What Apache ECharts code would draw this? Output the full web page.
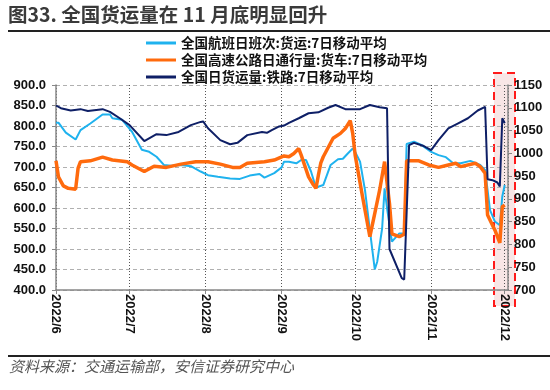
<!DOCTYPE html>
<html>
<head>
<meta charset="utf-8">
<script src="https://cdn.jsdelivr.net/npm/echarts@6/dist/echarts.min.js"></script>
<style>
  html, body { margin: 0; padding: 0; background: #fff; }
  #chart { width: 550px; height: 390px; }
</style>
</head>
<body>
<div id="chart"></div>
<script>
// 全国航班日班次:货运 (left axis)
const flightData = [
  ['2022-06-01', 808], ['2022-06-02', 808], ['2022-06-05', 784], ['2022-06-09', 767],
  ['2022-06-11', 790], ['2022-06-15', 806], ['2022-06-20', 828], ['2022-06-23', 828],
  ['2022-06-24', 819], ['2022-06-28', 815], ['2022-07-02', 786], ['2022-07-06', 742],
  ['2022-07-09', 737], ['2022-07-12', 725], ['2022-07-15', 705], ['2022-07-18', 703],
  ['2022-07-22', 705], ['2022-07-26', 702], ['2022-07-30', 689], ['2022-08-02', 680],
  ['2022-08-06', 676], ['2022-08-11', 672], ['2022-08-15', 671], ['2022-08-19', 679],
  ['2022-08-23', 683], ['2022-08-25', 674], ['2022-08-29', 685], ['2022-09-01', 699],
  ['2022-09-02', 713], ['2022-09-04', 713], ['2022-09-07', 709], ['2022-09-09', 717],
  ['2022-09-11', 717], ['2022-09-13', 689], ['2022-09-15', 650], ['2022-09-18', 656],
  ['2022-09-21', 705], ['2022-09-24', 719], ['2022-09-26', 720], ['2022-09-28', 733],
  ['2022-09-30', 745], ['2022-10-01', 737], ['2022-10-03', 713], ['2022-10-05', 644],
  ['2022-10-07', 546], ['2022-10-09', 450], ['2022-10-10', 469], ['2022-10-12', 550],
  ['2022-10-13', 648], ['2022-10-14', 600], ['2022-10-16', 518], ['2022-10-19', 538],
  ['2022-10-21', 538], ['2022-10-22', 756], ['2022-10-25', 762], ['2022-10-28', 754],
  ['2022-11-01', 737], ['2022-11-04', 729], ['2022-11-07', 724], ['2022-11-10', 709],
  ['2022-11-13', 709], ['2022-11-17', 715], ['2022-11-21', 705], ['2022-11-23', 693],
  ['2022-11-25', 595], ['2022-11-27', 567], ['2022-11-29', 558], ['2022-11-30', 628],
  ['2022-12-01', 656]
];

// 全国高速公路日通行量:货车 (left axis)
const truckData = [
  ['2022-06-01', 715], ['2022-06-02', 676], ['2022-06-04', 654], ['2022-06-06', 648],
  ['2022-06-09', 646], ['2022-06-10', 697], ['2022-06-11', 713], ['2022-06-15', 715],
  ['2022-06-20', 724], ['2022-06-24', 717], ['2022-06-30', 713], ['2022-07-02', 705],
  ['2022-07-07', 689], ['2022-07-11', 702], ['2022-07-16', 699], ['2022-07-22', 707],
  ['2022-07-28', 713], ['2022-08-02', 713], ['2022-08-07', 707], ['2022-08-12', 699],
  ['2022-08-15', 699], ['2022-08-18', 709], ['2022-08-25', 713], ['2022-08-29', 717],
  ['2022-09-02', 727], ['2022-09-04', 725], ['2022-09-06', 733], ['2022-09-08', 745],
  ['2022-09-09', 729], ['2022-09-12', 676], ['2022-09-14', 656], ['2022-09-15', 648],
  ['2022-09-16', 680], ['2022-09-17', 710], ['2022-09-18', 725], ['2022-09-22', 770],
  ['2022-09-25', 782], ['2022-09-27', 794], ['2022-09-29', 813], ['2022-09-30', 782],
  ['2022-10-01', 729], ['2022-10-04', 628], ['2022-10-07', 530], ['2022-10-09', 587],
  ['2022-10-11', 644], ['2022-10-13', 713], ['2022-10-15', 611], ['2022-10-16', 537],
  ['2022-10-19', 530], ['2022-10-21', 536], ['2022-10-22', 715], ['2022-10-27', 715],
  ['2022-10-31', 705], ['2022-11-04', 699], ['2022-11-08', 705], ['2022-11-11', 709],
  ['2022-11-13', 701], ['2022-11-19', 709], ['2022-11-21', 701], ['2022-11-23', 685],
  ['2022-11-24', 583], ['2022-11-27', 546], ['2022-11-29', 515], ['2022-11-30', 603],
  ['2022-12-01', 607]
];

// 全国日货运量:铁路 (right axis)
const railData = [
  ['2022-06-01', 1105], ['2022-06-03', 1099], ['2022-06-07', 1094], ['2022-06-11', 1097],
  ['2022-06-14', 1093], ['2022-06-20', 1097], ['2022-06-23', 1091], ['2022-06-27', 1077],
  ['2022-07-01', 1062], ['2022-07-07', 1027], ['2022-07-12', 1042], ['2022-07-16', 1040],
  ['2022-07-21', 1047], ['2022-07-26', 1062], ['2022-07-30', 1069], ['2022-07-31', 1070],
  ['2022-08-02', 1055], ['2022-08-07', 1029], ['2022-08-11', 1020], ['2022-08-14', 1023],
  ['2022-08-18', 1040], ['2022-08-24', 1047], ['2022-08-26', 1045], ['2022-08-28', 1051],
  ['2022-08-31', 1059], ['2022-09-02', 1061], ['2022-09-04', 1067], ['2022-09-08', 1077],
  ['2022-09-12', 1088], ['2022-09-16', 1090], ['2022-09-20', 1100], ['2022-09-23', 1106],
  ['2022-09-27', 1097], ['2022-10-03', 1097], ['2022-10-07', 1106], ['2022-10-11', 1101],
  ['2022-10-14', 1099], ['2022-10-15', 790], ['2022-10-20', 726], ['2022-10-21', 723],
  ['2022-10-23', 1018], ['2022-10-25', 1023], ['2022-10-29', 1016], ['2022-11-01', 1007],
  ['2022-11-04', 1029], ['2022-11-08', 1055], ['2022-11-12', 1066], ['2022-11-16', 1077],
  ['2022-11-20', 1094], ['2022-11-23', 1102], ['2022-11-24', 943], ['2022-11-26', 941],
  ['2022-11-28', 936], ['2022-11-29', 927], ['2022-11-30', 1077], ['2022-12-01', 1066]
];

const seriesNames = [
  '全国航班日班次:货运:7日移动平均',
  '全国高速公路日通行量:货车:7日移动平均',
  '全国日货运量:铁路:7日移动平均'
];
const seriesColors = ['#1fb2ee', '#ff6a0d', '#0e1f66'];

const titleText = '图33. 全国货运量在 11 月底明显回升';
const sourceText = '资料来源：交通运输部，安信证券研究中心';

const DAY = 86400000;
const chart = echarts.init(document.getElementById('chart'), null, { renderer: 'canvas' });

const axisFont = { fontFamily: 'Liberation Sans, Arial, sans-serif', fontWeight: 'bold', fontSize: 13, color: '#111' };

const option = {
  animation: false,
  textStyle: { fontFamily: '"Noto Sans CJK SC", sans-serif' },
  graphic: [
    { type: 'text', left: 8, top: 5, style: { text: titleText, fontSize: 19.5, fontWeight: 'bold', fill: '#3a3a3a', fontFamily: '"Noto Sans CJK SC", sans-serif' } },
    { type: 'rect', shape: { x: 8, y: 30, width: 542, height: 2 }, style: { fill: '#222' } },
    { type: 'rect', shape: { x: 8, y: 355, width: 542, height: 2 }, style: { fill: '#222' } },
    { type: 'text', left: 9, top: 359, style: { text: sourceText, fontSize: 15, fontStyle: 'italic', fill: '#555', fontFamily: '"Noto Sans CJK SC", serif' } },
    { type: 'rect', z: -1, shape: { x: 494, y: 73, width: 21, height: 233 }, style: { fill: 'rgba(240,200,200,0.45)', stroke: '#ff1a1a', lineWidth: 2, lineDash: [8, 5] } }
  ],
  legend: {
    orient: 'vertical',
    left: 141,
    top: 30,
    itemGap: 1,
    itemWidth: 30,
    itemHeight: 3,
    icon: 'rect',
    data: seriesNames,
    textStyle: { fontSize: 13.5, fontWeight: 'bold', color: '#111', lineHeight: 16, fontFamily: '"Noto Sans CJK SC", sans-serif' }
  },
  grid: { left: 56, right: 42, top: 85, bottom: 100, containLabel: false },
  xAxis: {
    type: 'time',
    min: +new Date(2022, 5, 1),
    max: +new Date(2022, 11, 2, 8),
    minInterval: 28 * DAY,
    maxInterval: 31 * DAY,
    splitNumber: 6,
    axisLine: { lineStyle: { color: '#888', width: 1.5 } },
    axisTick: { show: true, length: 4, lineStyle: { color: '#888' } },
    splitLine: { show: true, lineStyle: { color: '#555', type: [1, 2], width: 1 } },
    axisLabel: {
      ...axisFont,
      rotate: -90,
      margin: 4,
      showMinLabel: true,
      showMaxLabel: false,
      hideOverlap: false,
      formatter: '{yyyy}/{M}'
    }
  },
  yAxis: [
    {
      type: 'value',
      min: 400,
      max: 900,
      interval: 50,
      axisLine: { show: true, lineStyle: { color: '#888', width: 1.5 } },
      axisTick: { show: true, length: 4, inside: false, lineStyle: { color: '#888' } },
      splitLine: { show: true, lineStyle: { color: '#b0b0b0', type: [4, 3], width: 1 } },
      axisLabel: { ...axisFont, margin: 10, formatter: (v) => v.toFixed(1) }
    },
    {
      type: 'value',
      min: 700,
      max: 1150,
      interval: 50,
      position: 'right',
      axisLine: { show: true, lineStyle: { color: '#888', width: 1.5 } },
      axisTick: { show: true, length: 4, lineStyle: { color: '#888' } },
      splitLine: { show: false },
      axisLabel: { ...axisFont, margin: 6, formatter: (v) => String(v) }
    }
  ],
  series: [
    { name: seriesNames[0], type: 'line', yAxisIndex: 0, data: flightData, symbol: 'none', color: seriesColors[0], lineStyle: { width: 2 } },
    { name: seriesNames[1], type: 'line', yAxisIndex: 0, data: truckData, symbol: 'none', color: seriesColors[1], lineStyle: { width: 3.5 } },
    { name: seriesNames[2], type: 'line', yAxisIndex: 1, data: railData, symbol: 'none', color: seriesColors[2], lineStyle: { width: 2 } }
  ]
};

chart.setOption(option);
</script>
</body>
</html>
